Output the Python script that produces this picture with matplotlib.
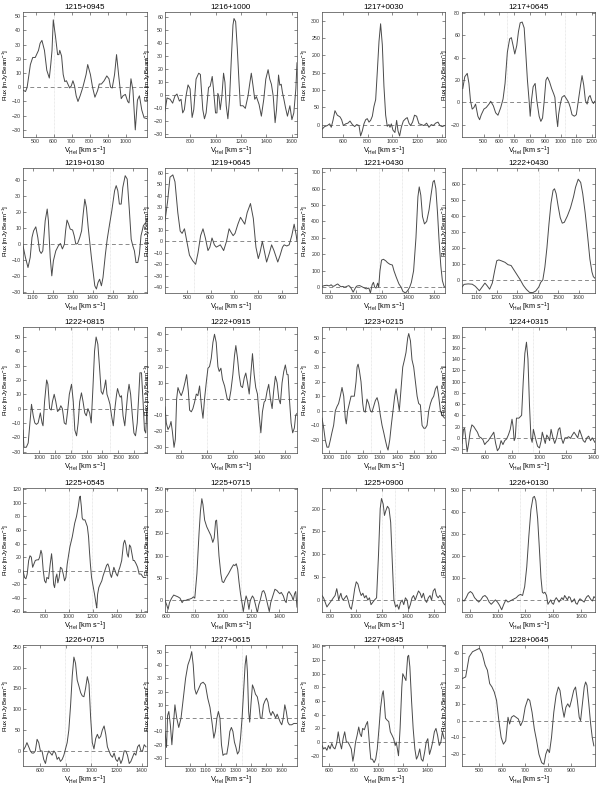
import matplotlib
matplotlib.use("Agg")
import matplotlib.pyplot as plt

plt.rcParams['font.family'] = ['Liberation Sans', 'DejaVu Sans']
plt.rcParams['mathtext.default'] = 'regular'

# panel names, in reading order
names = ["1215+0945", "1216+1000", "1217+0030", "1217+0645",
         "1219+0130", "1219+0645", "1221+0430", "1222+0430",
         "1222+0815", "1222+0915", "1223+0215", "1224+0315",
         "1225+0545", "1225+0715", "1225+0900", "1226+0130",
         "1226+0715", "1227+0615", "1227+0845", "1228+0645"]

# spectra: heliocentric velocity [km/s] and flux [mJy/beam]
v_1215_0945 = [430, 444, 453, 471, 484, 498, 516, 525, 535, 549, 562, 576, 584, 591, 598, 611, 622, 629, 634, 644,
               653, 662, 671, 680, 689, 698, 707, 716, 725, 735, 747, 762, 780, 789, 804, 816, 829, 844, 853, 865,
               880, 895, 907, 916, 925, 938, 949, 962, 975, 985, 998, 1011, 1018, 1029, 1040, 1053, 1065, 1076, 1089, 1102, 1116]
f_1215_0945 = [-2, -3, 0, 16, 21, 21, 26, 31, 33, 26, 12, 6.5, 16, 26, 47.5, 35, 23, 23, 26, 22,
               9, 4, 4.6, 2, -0.5, 1, 4.6, 1, -6, -10, -6, 0, 9, 16, 9, 0, -7, -2.3, 2.3, 2.3,
               4.6, 8, 6, 0, -0.5, 9, 23, 7, -8, -6, -5, -10, -11, 6, -2, -30, -9, -6, -16, -21.5, -22]

v_1216_1000 = [603, 619, 643, 663, 681, 697, 716, 729, 742, 755, 768, 784, 800, 816, 829, 847, 868, 881, 900, 913,
               926, 945, 958, 974, 984, 1000, 1011, 1018, 1026, 1037, 1050, 1063, 1074, 1084, 1097, 1110, 1124, 1137, 1145, 1158,
               1171, 1184, 1195, 1216, 1234, 1255, 1268, 1281, 1295, 1308, 1321, 1342, 1360, 1379, 1395, 1413, 1426, 1439, 1453, 1468,
               1479, 1495, 1505, 1516, 1526, 1537, 1550, 1565, 1584, 1600, 1615, 1631, 1640]
f_1216_1000 = [-12, -2, -3, -6, -0.5, 1, -4.4, -3, -13.5, -11, -0.5, 8, 5, -17, -11, 12.5, 17, 16, -11, -18,
               -13.5, 6, 7, 14.5, 4.7, -13.5, -13.5, 1.5, -0.5, -11, -0.5, 17, 10, -8, -18, -3, 28, 54, 59, 56.5,
               36, 11, -8, -8, -10, -0.5, 8.5, 17, 7, -3, -1, -7, -16, -3, 12.5, 19.7, 12.5, 8.5, -0.5, -21,
               -11, 15.6, 7.8, 8.5, 2, -3, -9.6, -16, -8, -18.7, -13.5, 5, 25]

v_1217_0030 = [432, 451, 473, 492, 505, 519, 535, 554, 576, 589, 603, 622, 640, 657, 676, 695, 711, 730, 743, 757,
               770, 784, 797, 811, 824, 838, 851, 865, 878, 892, 905, 919, 932, 946, 959, 973, 981, 992, 1005, 1021,
               1035, 1046, 1059, 1073, 1089, 1108, 1121, 1135, 1148, 1164, 1180, 1197, 1216, 1235, 1256, 1278, 1297, 1316, 1332, 1351,
               1370, 1386, 1405, 1424]
f_1217_0030 = [-13, -6, -3, 2, -8, 12, 40, 27, 22, 14, -3, 2, 4, 10, 0, -6, 0, -3, -33, -18,
               2, 14, 17, 7, 12, 24, 52, 72, 151, 240, 291, 230, 111, 27, -5, 0, -8, 2, -16, -23,
               12, -18, -33, -8, 10, 17, 20, 4, -3, 7, 27, 24, 2, 0, -3, 4, -8, 0, -3, 4,
               7, -3, -6, -3]

v_1217_0645 = [365, 378, 394, 405, 415, 426, 437, 448, 463, 474, 485, 502, 517, 535, 546, 563, 578, 593, 611, 626,
               639, 654, 669, 680, 691, 702, 715, 726, 737, 750, 763, 773, 784, 795, 802, 810, 821, 834, 845, 860,
               871, 882, 893, 904, 914, 927, 941, 954, 962, 971, 980, 986, 997, 1008, 1023, 1038, 1051, 1062, 1073, 1088,
               1101, 1114, 1127, 1138, 1149, 1160, 1171, 1181, 1190, 1201, 1212, 1220]
f_1217_0645 = [12.4, 23, 26, 17, 1.5, -6, -4.6, -1.5, -12.4, -15.5, -11, -6, -4.6, -1.5, 1, -3, -9.3, -11.5, -4.6, 3,
               17, 45, 57, 58, 51, 43.4, 51, 63.5, 71.3, 72, 66.7, 45, 20, 1.5, -12.4, 1.5, 14, 17, 1.5, -12.4,
               -17, -14, 1.5, 20, 22.6, 18.6, 12.4, 7.8, 4.6, -11, -21.7, -11, -1.5, 4.6, 6.2, 3, 0, -4.6, -11, -12.4,
               -11, 1.5, 14, 24, 15.5, 1.5, -1.5, 4.6, 6.2, 1.5, -1, 1]

v_1219_0130 = [1052, 1064, 1077, 1088, 1097, 1105, 1116, 1126, 1135, 1143, 1151, 1163, 1173, 1179, 1188, 1196, 1204, 1216, 1229, 1239,
               1249, 1259, 1265, 1272, 1280, 1288, 1300, 1308, 1316, 1325, 1336, 1345, 1353, 1361, 1369, 1378, 1386, 1394, 1402, 1411,
               1419, 1427, 1435, 1444, 1452, 1464, 1473, 1485, 1496, 1510, 1518, 1526, 1534, 1543, 1551, 1563, 1573, 1584, 1593, 1601,
               1609, 1617, 1626, 1634, 1642, 1654, 1672]
f_1219_0130 = [-1, -8.3, -14.6, -8.3, 4.2, 8.3, 10.8, 4.2, -4.2, -5.8, -4.2, 14.6, 21.9, 14.6, -8.3, -19.8, -10.4, -4.2, -1, 0.4,
               -3, 0, 8.3, 15, 12.5, 9.4, 8.8, 5.2, 0, 0.4, 4.2, 8.3, 18.8, 28, 23, 10.4, 1, -8.3, -16.7, -26,
               -28, -24, -21.9, -26, -20.8, -6.3, 3, 12.5, 20.8, 33.3, 36.5, 33.3, 25, 25, 35.4, 42.7, 40.6, 20.8, 3, -1,
               -4.2, -11.5, -11.5, -6.3, 5.2, 11.5, 14.6]

v_1219_0645 = [408, 419, 429, 441, 450, 462, 472, 480, 490, 500, 511, 525, 537, 547, 558, 568, 578, 589, 597, 606,
               616, 624, 633, 641, 655, 667, 678, 686, 695, 703, 715, 726, 735, 744, 754, 768, 780, 791, 801, 808,
               818, 826, 836, 848, 857, 867, 883, 893, 903, 910, 921, 931, 942, 952, 961, 964]
f_1219_0645 = [18, 35, 56, 58, 52, 25, 9, 7, 11, 0, -12, -17, -20, -10, 5, 11, 3, -8, -5, 3,
               -3, -5, -4, -3, -8, 0, 11, 8, 5, 7, 15, 21, 18, 15, 25, 33, 20, -5, -15, -10,
               0, -8, -18, -10, -3, -8, -18, -12, -5, -3, -4, -3, 5, 15, 5, 0]

v_1221_0430 = [742, 760, 780, 797, 812, 825, 837, 850, 862, 875, 887, 900, 917, 930, 947, 960, 967, 980, 1000, 1010,
               1030, 1055, 1080, 1100, 1112, 1125, 1135, 1145, 1155, 1167, 1175, 1185, 1197, 1212, 1230, 1242, 1260, 1280, 1292, 1310,
               1330, 1347, 1360, 1380, 1397, 1412, 1425, 1442, 1460, 1475, 1485, 1497, 1510, 1525, 1542, 1560, 1575, 1590, 1600, 1612,
               1625, 1637, 1650, 1662, 1675, 1682]
f_1221_0430 = [5, 10, 12, 8, 15, 5, 8, 15, 20, 10, 3, 5, 0, 5, 10, 0, -10, -30, 0, 8,
               10, 0, -10, -5, -35, 15, 30, 0, -5, 25, 0, 100, 165, 170, 160, 150, 140, 135, 100, 60,
               20, 0, -25, -35, -20, 0, 30, 100, 300, 550, 610, 560, 430, 385, 400, 470, 560, 640, 650, 600,
               450, 280, 130, 40, 5, 0]

v_1222_0430 = [1030, 1040, 1060, 1080, 1095, 1115, 1128, 1142, 1152, 1165, 1178, 1190, 1200, 1210, 1225, 1240, 1255, 1270, 1285, 1300,
               1315, 1330, 1345, 1360, 1375, 1390, 1405, 1415, 1425, 1435, 1445, 1455, 1465, 1475, 1482, 1490, 1500, 1510, 1520, 1530,
               1545, 1560, 1575, 1585, 1598, 1610, 1620, 1632, 1645, 1655, 1665, 1672, 1680]
f_1222_0430 = [-45, -28, -25, -27, -40, -68, -45, -20, -35, -58, -20, 60, 120, 125, 118, 110, 95, 90, 60, 30,
               0, -35, -60, -78, -80, -70, -45, -15, 0, 80, 200, 350, 480, 560, 570, 540, 460, 390, 355, 360,
               400, 450, 520, 580, 630, 610, 540, 420, 260, 130, 50, 20, 10]

v_1222_0815 = [896, 902, 917, 929, 940, 950, 961, 971, 981, 992, 1006, 1017, 1023, 1033, 1046, 1054, 1065, 1075, 1083, 1094,
               1104, 1115, 1125, 1136, 1146, 1158, 1169, 1179, 1190, 1204, 1215, 1225, 1236, 1246, 1256, 1267, 1277, 1288, 1298, 1308,
               1319, 1329, 1340, 1350, 1360, 1371, 1381, 1392, 1402, 1413, 1421, 1429, 1438, 1448, 1458, 1469, 1479, 1490, 1496, 1506,
               1513, 1521, 1531, 1542, 1552, 1560, 1569, 1579, 1590, 1600, 1610, 1621, 1631, 1638, 1648, 1658, 1667, 1675, 1683]
f_1222_0815 = [-15, -27, -27, -24, -10, 3, -5, -10, -11, -10, -3, -10, -12, 5, 20, 17, 0, -1, 5, 10,
               5, -2, -1, 2, 0, -10, -11, -2, 10, 17, 5, -15, -19, -10, 5, 11, 5, -3, -5, 0,
               -3, -10, 15, 40, 50, 45, 30, 12, 10, 15, 20, 10, 7, 3, -5, -12, 0, 10, 14, 10,
               8, 9, -5, -12, 0, 10, 17, 10, -5, -17, -19, -10, 10, 25, 25, 5, -15, -17, 0]

v_1222_0915 = [681, 691, 704, 717, 727, 737, 750, 760, 770, 780, 793, 805, 818, 833, 846, 859, 869, 882, 894, 907,
               920, 932, 945, 960, 971, 983, 996, 1009, 1021, 1034, 1047, 1059, 1072, 1085, 1095, 1108, 1120, 1136, 1156, 1171,
               1184, 1199, 1212, 1222, 1235, 1247, 1260, 1273, 1286, 1298, 1311, 1324, 1336, 1349, 1362, 1374, 1387, 1400, 1413, 1425,
               1438, 1448, 1461, 1473, 1486, 1499, 1511, 1524, 1537, 1550, 1562, 1575, 1588, 1600, 1613, 1621, 1631, 1644, 1656, 1669,
               1679, 1689]
f_1222_0915 = [-5, -15, -19, -17, -14, -20, -30, -25, 0, 7, 4, 2, 5, 10, 15, 5, -7, -8, -6, -2,
               3, 2, 8, -5, -12, 0, 10, 19, 20, 25, 35, 40, 35, 20, 17, 19, 12, 8, 0, -1,
               5, 15, 27, 33, 25, 15, 8, 7, 13, 16, 10, 3, 15, 28, 15, 7, 3, -10, -21, -8,
               -2, -1, 5, 9, 0, -6, 5, 14, 10, 0, -3, 10, 17, 21, 15, 15, 0, -15, -21, -18,
               -10, -9]

v_1223_0215 = [961, 971, 980, 990, 1000, 1010, 1019, 1029, 1039, 1049, 1058, 1068, 1078, 1088, 1097, 1103, 1111, 1121, 1131, 1140,
               1150, 1160, 1166, 1172, 1179, 1189, 1199, 1205, 1214, 1224, 1234, 1244, 1253, 1263, 1273, 1283, 1292, 1302, 1312, 1322,
               1331, 1341, 1347, 1357, 1366, 1376, 1386, 1394, 1403, 1413, 1423, 1433, 1443, 1452, 1462, 1468, 1478, 1487, 1497, 1507,
               1517, 1526, 1536, 1546, 1556, 1565, 1575, 1585, 1595, 1604, 1614, 1624, 1634, 1643, 1653, 1663, 1677]
f_1223_0215 = [-5, -12, -20, -25, -25, -20, -15, -10, 0, 3, 5, 10, 16, 10, -5, -9, 0, 5, 10, 10,
               10, 20, 30, 32, 28, 20, 5, 0, -1, 8, 5, 0, -1, 3, 7, 9, 5, -3, -10, -15,
               -20, -25, -27, -20, -10, 0, 10, 15, 8, 0, 15, 30, 35, 40, 50, 53, 48, 35, 30, 20,
               10, 5, 4, -10, -12, -12, -10, 0, 5, 8, 10, 15, 17, 10, 0, -3, -5]

v_1224_0315 = [427, 438, 446, 454, 465, 476, 487, 500, 514, 527, 541, 554, 568, 581, 595, 608, 622, 635, 649, 662,
               676, 689, 703, 716, 730, 743, 757, 770, 784, 797, 805, 813, 821, 830, 848, 868, 880, 892, 904, 915,
               926, 937, 946, 955, 965, 975, 986, 1000, 1013, 1021, 1032, 1043, 1054, 1067, 1075, 1086, 1100, 1113, 1127, 1140,
               1151, 1162, 1175, 1189, 1202, 1216, 1229, 1243, 1256, 1270, 1283, 1297, 1310, 1324, 1337, 1351, 1364, 1378, 1391, 1410]
f_1224_0315 = [-10, 15, 17, 0, -25, -10, 10, 23, 20, 15, 10, 2, 0, -3, -12, -8, -5, 0, 5, 10,
               -10, -23, -18, -5, -12, -5, -2, 5, 15, 33, 20, -5, 0, 35, 35, 40, 100, 150, 170, 140,
               60, 0, -8, 15, 5, -5, -15, -18, -5, 10, 0, -10, 5, 0, -5, 15, 0, -10, 0, 15,
               18, 0, -10, 0, 0, 2, -1, 5, 10, 5, 0, 14, 5, -5, -8, 0, 3, -5, 0, -8]

v_1225_0545 = [621, 634, 645, 656, 668, 679, 690, 701, 712, 723, 737, 750, 759, 770, 778, 789, 800, 811, 819, 833,
               847, 858, 866, 875, 883, 894, 902, 910, 921, 932, 944, 955, 966, 977, 988, 1010, 1030, 1050, 1065, 1080,
               1090, 1096, 1105, 1112, 1120, 1135, 1145, 1155, 1165, 1172, 1180, 1190, 1200, 1215, 1228, 1233, 1240, 1250, 1262, 1275,
               1285, 1300, 1315, 1325, 1335, 1345, 1355, 1365, 1375, 1385, 1395, 1405, 1415, 1425, 1440, 1455, 1465, 1475, 1485, 1495,
               1505, 1515, 1525, 1535, 1545, 1560, 1572, 1585, 1600, 1620, 1640]
f_1225_0545 = [0, -10, -12, -5, 15, 22, 20, 5, 10, 15, 16, 16, 20, 30, 25, 0, -15, -18, -10, -12,
               10, 25, 10, -20, -25, -10, -5, -18, -10, 5, 3, -5, -15, -10, 10, 35, 50, 70, 80, 95,
               108, 110, 95, 78, 75, 75, 70, 65, 50, 30, 10, -10, -20, -35, -50, -55, -35, -25, -20, -15,
               -8, 0, 8, 10, 5, -5, -10, -3, 5, 0, -5, -8, 0, 5, 15, 40, 45, 38, 25, 20,
               38, 35, 25, 15, 15, 10, 5, -5, -5, -10, -10]

v_1225_0715 = [588, 600, 610, 620, 635, 650, 665, 680, 695, 710, 720, 735, 750, 765, 780, 790, 800, 815, 830, 840,
               850, 858, 870, 885, 900, 915, 928, 938, 948, 955, 962, 972, 985, 995, 1005, 1020, 1040, 1060, 1075, 1085,
               1095, 1105, 1115, 1125, 1138, 1145, 1155, 1165, 1175, 1185, 1195, 1210, 1220, 1232, 1245, 1255, 1265, 1280, 1290, 1300,
               1315, 1330, 1340, 1355, 1370, 1385, 1395, 1405, 1415, 1430, 1440, 1450, 1460, 1470, 1480, 1490, 1500, 1510, 1518, 1527]
f_1225_0715 = [0, -10, -20, -5, 5, 12, 10, 8, 5, -5, 0, 0, 2, 3, 5, 8, 5, 60, 150, 200,
               228, 215, 180, 165, 155, 145, 130, 140, 178, 180, 150, 100, 60, 42, 40, 50, 60, 72, 80, 78,
               82, 70, 40, 15, -10, -25, -5, 10, 0, -20, 0, 10, 5, -10, -28, -10, 0, 20, 22, 15,
               -5, -25, -5, 10, 25, 22, 18, 15, 18, 10, 0, -5, 15, 20, 15, 10, 0, 15, 20, -15]

v_1225_0900 = [737, 749, 762, 775, 787, 800, 813, 825, 838, 851, 858, 866, 876, 883, 891, 901, 914, 927, 939, 952,
               964, 977, 990, 1002, 1015, 1028, 1040, 1053, 1066, 1078, 1091, 1104, 1116, 1129, 1142, 1159, 1174, 1187, 1197, 1210,
               1220, 1230, 1243, 1255, 1268, 1281, 1293, 1306, 1319, 1331, 1344, 1357, 1369, 1382, 1395, 1407, 1420, 1433, 1445, 1458,
               1470, 1483, 1496, 1508, 1521, 1534, 1546, 1559, 1572, 1584, 1597, 1610, 1622, 1635, 1648, 1660, 1673, 1685]
f_1225_0900 = [10, 5, -5, -15, -10, -5, 0, 5, 10, 25, 15, 0, 10, 15, 5, 0, 5, 10, 0, -15,
               -20, 0, 25, 40, 35, 20, 10, 15, 5, 10, 0, 5, -10, -5, 0, 5, 100, 200, 222, 210,
               185, 195, 205, 200, 170, 80, 0, -15, -10, -20, -5, 0, -10, 5, 0, -20, -10, 5, 10, 0,
               10, 20, 15, 5, 15, 0, -5, 5, 10, 0, 20, 25, 10, 5, 10, 5, -5, -10]

v_1226_0130 = [745, 760, 775, 790, 805, 820, 835, 850, 865, 880, 895, 910, 925, 940, 955, 970, 985, 1000, 1015, 1030,
               1045, 1060, 1075, 1090, 1105, 1120, 1135, 1150, 1165, 1180, 1195, 1210, 1225, 1240, 1255, 1265, 1275, 1288, 1300, 1312,
               1322, 1330, 1340, 1352, 1362, 1372, 1382, 1392, 1402, 1412, 1422, 1432, 1442, 1452, 1462, 1472, 1482, 1492, 1502, 1512,
               1522, 1532, 1542, 1552, 1562, 1572, 1582, 1592, 1602, 1612, 1622, 1632, 1642, 1652, 1662, 1672, 1682, 1692, 1700]
f_1226_0130 = [0, -5, 10, 30, 38, 30, 10, 0, -10, 0, 15, 20, 10, -10, -20, -10, 0, -10, -25, -45,
               -20, 0, -10, -5, 0, 5, 10, 20, 25, 20, 60, 150, 290, 410, 465, 470, 450, 370, 240, 100,
               35, 30, 35, 20, -20, -10, 0, -15, -20, 0, 10, 0, -10, 0, 10, 0, 20, 10, 0, 15,
               10, -10, -5, 5, -15, -20, -5, 5, 0, -5, -10, 5, 15, 20, 10, 0, -5, 15, 10]

v_1226_0715 = [463, 481, 494, 508, 521, 534, 547, 560, 574, 587, 600, 613, 626, 640, 653, 666, 679, 692, 706, 719,
               732, 745, 758, 772, 785, 798, 811, 824, 838, 851, 864, 877, 890, 904, 917, 930, 943, 956, 970, 983,
               996, 1009, 1022, 1036, 1049, 1062, 1075, 1088, 1102, 1115, 1128, 1141, 1154, 1168, 1181, 1194, 1207, 1220, 1234, 1247,
               1260, 1273, 1286, 1300, 1313, 1326, 1339, 1352, 1366, 1379, 1392, 1405, 1418, 1432]
f_1226_0715 = [0, 10, 20, 10, 0, -5, -5, 0, 28, 20, 0, 0, -20, -30, -10, 0, -5, -10, 0, -5,
               -20, -15, -25, -20, -10, 5, 20, 50, 110, 180, 225, 210, 170, 155, 140, 132, 130, 150, 178, 160,
               80, 20, 5, 30, 40, 30, 35, 50, 60, 40, 10, 0, -10, -15, -5, -20, -25, -15, -30, -20,
               0, 0, -10, -30, -25, -15, -5, -10, 10, 15, 0, 0, 15, 10]

v_1227_0615 = [835, 845, 852, 860, 870, 880, 890, 900, 912, 925, 940, 955, 970, 985, 1000, 1010, 1020, 1030, 1040, 1055,
               1070, 1085, 1100, 1115, 1130, 1145, 1155, 1165, 1175, 1185, 1195, 1205, 1215, 1225, 1240, 1250, 1260, 1270, 1280, 1290,
               1300, 1310, 1320, 1330, 1340, 1350, 1360, 1368, 1375, 1383, 1390, 1398, 1408, 1418, 1428, 1440, 1450, 1460, 1470, 1480,
               1490, 1500, 1510, 1520, 1530, 1540, 1550, 1560, 1570, 1580, 1590, 1600, 1610, 1620, 1630, 1640, 1650, 1665, 1680, 1700]
f_1227_0615 = [-10, -22, 2, 5, -5, -20, -5, 10, 0, -7, 0, 15, 30, 40, 45, 50, 40, 22, 18, 22,
               26, 27, 25, 15, 8, -5, -15, -10, 0, 5, 0, -20, -28, -27, -27, -20, -10, -7, -10, -18,
               -22, -27, -25, -15, 0, 20, 40, 47, 35, 5, -3, 10, 25, 22, 18, 16, 10, 0, 0, 10,
               13, 15, 12, 5, 2, 5, 3, 0, 3, 0, -3, -5, 0, 10, 5, -3, -5, -5, -4, -4]

v_1227_0845 = [539, 552, 565, 579, 592, 605, 619, 632, 645, 659, 672, 685, 699, 712, 725, 739, 752, 766, 779, 792,
               800, 814, 827, 840, 851, 862, 872, 886, 899, 912, 920, 931, 939, 952, 966, 979, 992, 1006, 1019, 1033,
               1041, 1049, 1059, 1073, 1086, 1099, 1113, 1126, 1139, 1147, 1155, 1166, 1179, 1193, 1201, 1214, 1227, 1241, 1249, 1259,
               1273, 1286, 1300, 1313, 1326, 1340, 1353, 1366, 1380, 1393, 1406, 1420, 1433, 1446, 1460, 1473, 1486, 1500, 1513, 1526,
               1540]
f_1227_0845 = [-5, -10, -8, -12, -5, -10, -2, -8, -10, -2, 15, 0, -10, 5, 15, 0, 0, -5, -10, -28,
               -20, 0, 10, 22, 12, 8, 20, 18, 25, 30, 15, -10, -25, -25, -30, -25, -10, 20, 50, 70,
               75, 60, 35, 32, 30, 15, 10, 5, -5, 0, -8, -20, 20, 80, 100, 95, 90, 125, 127, 110,
               60, 20, -10, -25, -20, -10, -25, -28, -15, 0, 5, -18, -10, 0, 15, 20, 10, -5, 0, 15,
               5]

v_1228_0645 = [425, 440, 455, 470, 485, 500, 512, 525, 535, 545, 555, 565, 575, 585, 595, 605, 615, 625, 632, 640,
               650, 660, 670, 680, 690, 700, 712, 720, 730, 740, 750, 760, 772, 782, 790, 798, 806, 815, 825, 835,
               845, 852, 862, 870, 878, 886, 894, 902, 912, 920, 928, 936, 942, 950, 958, 964, 970, 978, 986, 993,
               1000]
f_1228_0645 = [25, 26, 38, 41, 42, 43, 40, 33, 30, 22, 20, 17, 12, 0, -10, -14, -12, 2, -2, 2,
               3, 2, 1, -3, 0, 8, 13, 12, 5, -5, -12, -20, -25, -26, -20, -17, -19, -10, 5, 15,
               20, 18, 8, 2, 8, 10, 8, 12, 18, 20, 12, 2, 0, 10, 20, 23, 21, 10, -2, -10,
               -15]

velocities = [v_1215_0945, v_1216_1000, v_1217_0030, v_1217_0645,
              v_1219_0130, v_1219_0645, v_1221_0430, v_1222_0430,
              v_1222_0815, v_1222_0915, v_1223_0215, v_1224_0315,
              v_1225_0545, v_1225_0715, v_1225_0900, v_1226_0130,
              v_1226_0715, v_1227_0615, v_1227_0845, v_1228_0645]
fluxes = [f_1215_0945, f_1216_1000, f_1217_0030, f_1217_0645,
          f_1219_0130, f_1219_0645, f_1221_0430, f_1222_0430,
          f_1222_0815, f_1222_0915, f_1223_0215, f_1224_0315,
          f_1225_0545, f_1225_0715, f_1225_0900, f_1226_0130,
          f_1226_0715, f_1227_0615, f_1227_0845, f_1228_0645]

# axis ranges
x_ranges = [(430, 1118), (603, 1640), (430, 1427), (360, 1222),
            (1052, 1672), (408, 964), (742, 1682), (1030, 1680),
            (896, 1683), (681, 1689), (961, 1680), (427, 1411),
            (621, 1650), (588, 1527), (737, 1688), (745, 1700),
            (463, 1440), (835, 1700), (539, 1547), (424, 1005)]
y_ranges = [(-35, 53), (-32, 64), (-36, 325), (-31, 81),
            (-30.5, 47.5), (-45, 64), (-35, 725), (-82, 700),
            (-31, 57), (-33.5, 44.5), (-29, 57.5), (-27, 197),
            (-61, 122), (-26, 252), (-26, 245), (-55, 508),
            (-36, 254), (-36, 55), (-35, 142), (-27, 45)]

# tick labels
x_ticks = [[500, 600, 700, 800, 900, 1000], [800, 1000, 1200, 1400, 1600],
           [600, 800, 1000, 1200, 1400], [500, 600, 700, 800, 900, 1000, 1100, 1200],
           [1100, 1200, 1300, 1400, 1500, 1600], [500, 600, 700, 800, 900],
           [800, 1000, 1200, 1400, 1600], [1100, 1200, 1300, 1400, 1500, 1600],
           [1000, 1100, 1200, 1300, 1400, 1500, 1600], [800, 1000, 1200, 1400, 1600],
           [1000, 1100, 1200, 1300, 1400, 1500, 1600], [600, 800, 1000, 1200, 1400],
           [800, 1000, 1200, 1400, 1600], [600, 800, 1000, 1200, 1400],
           [800, 1000, 1200, 1400, 1600], [800, 1000, 1200, 1400, 1600],
           [600, 800, 1000, 1200, 1400], [1000, 1100, 1200, 1300, 1400, 1500, 1600],
           [600, 800, 1000, 1200, 1400], [500, 600, 700, 800, 900]]
y_ticks = [list(range(-30, 51, 10)), list(range(-30, 61, 10)), list(range(0, 301, 50)),
           list(range(-20, 81, 20)), list(range(-30, 41, 10)), list(range(-40, 61, 10)),
           list(range(0, 701, 100)), list(range(0, 601, 100)), list(range(-30, 51, 10)),
           list(range(-30, 41, 10)), list(range(-20, 51, 10)), list(range(-20, 181, 20)),
           list(range(-60, 121, 20)), list(range(0, 251, 50)), list(range(0, 201, 50)),
           list(range(0, 501, 100)), list(range(0, 251, 50)), list(range(-30, 51, 10)),
           list(range(-20, 141, 20)), list(range(-20, 41, 10))]

# faint vertical guide lines (velocity window)
guides = [[600], [], [], [654, 1028], [1485], [531], [1175, 1350], [1405],
          [1210, 1450], [1000, 1400], [1250, 1555], [840, 950],
          [1000, 1190], [790, 1130], [1200, 1300], [1160, 1350],
          [790, 1000], [1180, 1340], [1010, 1130], [570, 800]]

# layout in pixels of the 600x789 figure
col_px = [(23, 147), (165, 297), (322, 445), (462, 595)]
row_px = [(12, 137), (168, 293), (327, 453), (488, 612), (645, 766)]

W, H = 600, 789
fig = plt.figure(figsize=(W / 100, H / 100), dpi=100)

line_col = '#4a4a4a'
for i, name in enumerate(names):
    r, c = divmod(i, 4)
    l, rgt = col_px[c]
    t, b = row_px[r]
    ax = fig.add_axes([l / W, 1 - b / H, (rgt - l) / W, (b - t) / H])

    for g in guides[i]:
        ax.axvline(g, color='#d9d9d9', lw=0.5, ls=(0, (1, 1)), zorder=1)
    ax.axhline(0, color='#8a8a8a', lw=0.7, ls=(0, (4, 3)), zorder=2)
    ax.plot(velocities[i], fluxes[i], color=line_col, lw=0.7, zorder=3)

    ax.set_xlim(*x_ranges[i])
    ax.set_ylim(*y_ranges[i])
    ax.set_xticks(x_ticks[i])
    ax.set_yticks(y_ticks[i])
    ax.tick_params(direction='in', top=True, right=True, length=2, width=0.4,
                   labelsize=3.8, pad=1.3, colors='#333333')
    for sp in ax.spines.values():
        sp.set_linewidth(0.5)
        sp.set_color('#444444')

    ax.set_title(name, fontsize=5.8, pad=2.5)
    ax.set_xlabel(r'V$_{Hel}$ [km s$^{-1}$]', fontsize=5.2, labelpad=0.6)
    ax.set_ylabel(r'Flux [mJy Beam$^{-1}$]', fontsize=4.4)
    # right edge of the rotated label just left of the tick labels
    ax.yaxis.set_label_coords(-12 / (rgt - l), 0.5)

fig.savefig("out.png", dpi=100)
